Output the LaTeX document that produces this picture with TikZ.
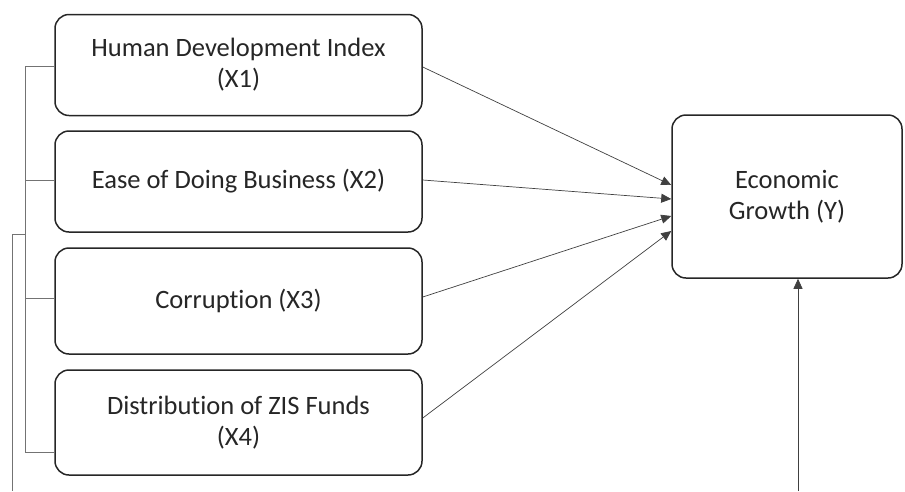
\documentclass[tikz,border=0pt]{standalone}
\usepackage{fontspec}
\setmainfont{Carlito}[Ligatures={NoCommon,NoRare,NoContextual}, Contextuals=NoAlternate]
\usetikzlibrary{positioning,calc,arrows.meta}

\begin{document}
\begin{tikzpicture}[x=1pt, y=-1pt,
% Node styles
 box/.style={draw=black!85, line width=1.5pt, rounded corners=14pt, fill=white,
 font=\fontsize{26.5}{31}\selectfont, text=black!85, align=center,
 minimum width=367pt, minimum height=101pt},
 target/.style={minimum width=230pt, minimum height=163pt},
% Edge styles
 edge/.style={draw=black!75, line width=0.7pt, -{Triangle[length=10pt,width=9pt]}},
 link/.style={draw=black!55, line width=0.9pt}
]
\useasboundingbox (0,0) rectangle (905,491);
% Independent variables
\node[box] (hdi) at (238.5,65) {Human Development Index\\(X1)};
\node[box] (eodb) at (238.5,181.5) {Ease of Doing Business (X2)};
\node[box, minimum height=106pt] (corr) at (238.5,301) {Corruption (X3)};
\node[box, minimum height=105pt] (zis) at (238.5,422.5) {Distribution of ZIS Funds\\(X4)};
% Dependent variable
\node[box, target] (growth) at (787,196.5) {Economic\\Growth (Y)};
% Bracket coordinates
\coordinate (top) at (25,66);
\coordinate (bot) at (25,452);
\coordinate (join) at (25,234);
\coordinate (outer) at (12,234);
\coordinate (outerend) at (12,491);
\coordinate (ctrl) at (798,491);
% Connect nodes with edges
\draw[edge] (hdi.east |- 0,67) -- (growth.west |- 0,185);
\draw[edge] (eodb.east |- 0,180) -- (growth.west |- 0,199);
\draw[edge] (corr.east |- 0,297) -- (growth.west |- 0,216);
\draw[edge] (zis.east |- 0,418) -- (growth.west |- 0,231);
\draw[edge] (ctrl) -- (growth.south -| ctrl);
% Bracket on the left
\draw[link] (top) -- (bot);
\draw[link] (top) -- (hdi.west |- top);
\draw[link] (25,180) -- (eodb.west |- 0,180);
\draw[link] (25,298) -- (corr.west |- 0,298);
\draw[link] (bot) -- (zis.west |- bot);
\draw[link] (join) -- (outer) -- (outerend);
\end{tikzpicture}
\end{document}
